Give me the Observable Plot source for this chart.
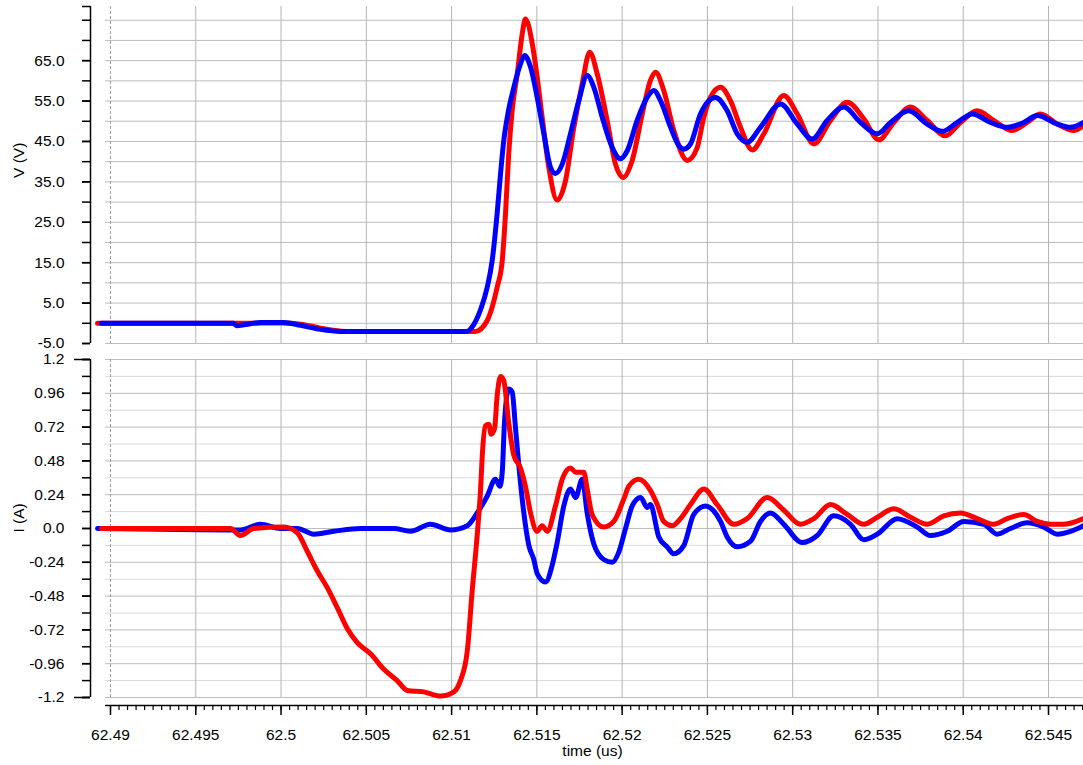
<!DOCTYPE html>
<html>
<head>
<meta charset="utf-8">
<script src="https://cdn.jsdelivr.net/npm/d3@7"></script>
<script src="https://cdn.jsdelivr.net/npm/@observablehq/plot@0.6"></script>
<style>
  body { margin: 0; background: #fff; }
  #chart svg { display: block; }
</style>
</head>
<body>
<div id="chart"></div>
<script>
// ---------- data ----------
const vRedTime = [62.48924, 62.49721, 62.49762, 62.50014, 62.50114, 62.50231, 62.50378, 62.51111, 62.51140, 62.51209, 62.51267, 62.51297, 62.51316, 62.51335, 62.51355, 62.51385, 62.51414, 62.51433, 62.51473, 62.51502, 62.51531, 62.51570, 62.51619, 62.51668, 62.51717, 62.51766, 62.51810, 62.51854, 62.51912, 62.51961, 62.52006, 62.52059, 62.52118, 62.52166, 62.52196, 62.52244, 62.52303, 62.52382, 62.52440, 62.52479, 62.52518, 62.52577, 62.52635, 62.52694, 62.52763, 62.52831, 62.52948, 62.53027, 62.53124, 62.53222, 62.53320, 62.53417, 62.53505, 62.53593, 62.53691, 62.53789, 62.53896, 62.53984, 62.54082, 62.54179, 62.54287, 62.54375, 62.54453, 62.54551, 62.54648, 62.54705];
const vRedValue = [0, 0, 0, 0.1, -0.2, -1.2, -2.0, -2.0, -2.0, 0.7, 8.9, 15.5, 27, 41.9, 52.6, 61.7, 71.6, 75.3, 69.2, 60.9, 51, 38.6, 30.5, 35.3, 48.5, 59.3, 67.1, 61.7, 50.2, 39.4, 36.1, 40.3, 51.8, 60.1, 62.1, 57.6, 47.7, 40.3, 43.5, 51, 55.9, 58.4, 55.1, 48.5, 42.9, 46.9, 56.4, 51.8, 44.4, 50.2, 54.7, 50.6, 45.4, 49.7, 53.5, 50.2, 46.4, 49.7, 52.6, 50.2, 47.7, 49.7, 51.8, 49.3, 47.7, 48.9];

const vBlueTime = [62.48947, 62.49721, 62.49739, 62.49792, 62.49880, 62.50014, 62.50114, 62.50231, 62.50349, 62.51092, 62.51111, 62.51170, 62.51209, 62.51238, 62.51267, 62.51287, 62.51306, 62.51330, 62.51365, 62.51404, 62.51428, 62.51463, 62.51502, 62.51541, 62.51580, 62.51609, 62.51649, 62.51697, 62.51746, 62.51795, 62.51834, 62.51883, 62.51942, 62.51990, 62.52030, 62.52088, 62.52147, 62.52186, 62.52225, 62.52284, 62.52332, 62.52362, 62.52401, 62.52459, 62.52547, 62.52616, 62.52675, 62.52733, 62.52811, 62.52929, 62.53027, 62.53114, 62.53202, 62.53300, 62.53398, 62.53496, 62.53574, 62.53681, 62.53789, 62.53877, 62.53965, 62.54053, 62.54160, 62.54258, 62.54355, 62.54434, 62.54551, 62.54629, 62.54705];
const vBlueValue = [0, 0, -0.6, -0.3, 0.2, 0.2, -0.5, -1.5, -2.0, -2.0, -1.4, 3.4, 8.9, 15.5, 27.1, 37, 45.2, 51.8, 58.4, 64.2, 66.3, 63.4, 55.9, 46.9, 38.6, 37.1, 39.4, 46.9, 55.1, 61.3, 58.4, 51, 43.5, 40.7, 42.7, 50.2, 55.9, 57.6, 55.1, 48.5, 44, 43.1, 44.4, 51.8, 55.9, 52.6, 46.9, 44.8, 48.5, 54.3, 49.3, 45.6, 50.2, 53.5, 49.7, 46.9, 49.7, 52.6, 49.3, 47.5, 49.7, 51.8, 49.7, 48.5, 49.7, 51.4, 49.3, 48.5, 49.7];

const iRedTime = [62.48947, 62.49704, 62.49762, 62.49840, 62.50016, 62.50095, 62.50153, 62.50212, 62.50271, 62.50329, 62.50388, 62.50447, 62.50525, 62.50603, 62.50681, 62.50740, 62.50837, 62.50935, 62.51013, 62.51052, 62.51092, 62.51121, 62.51150, 62.51170, 62.51180, 62.51199, 62.51218, 62.51232, 62.51252, 62.51267, 62.51287, 62.51306, 62.51335, 62.51365, 62.51404, 62.51433, 62.51463, 62.51502, 62.51531, 62.51561, 62.51609, 62.51649, 62.51697, 62.51727, 62.51775, 62.51795, 62.51824, 62.51892, 62.51951, 62.52010, 62.52039, 62.52098, 62.52166, 62.52206, 62.52244, 62.52294, 62.52342, 62.52401, 62.52479, 62.52557, 62.52655, 62.52733, 62.52851, 62.52948, 62.53046, 62.53124, 62.53222, 62.53320, 62.53417, 62.53496, 62.53593, 62.53691, 62.53789, 62.53886, 62.53984, 62.54082, 62.54179, 62.54258, 62.54355, 62.54434, 62.54512, 62.54590, 62.54705];
const iRedValue = [0, 0, -0.05, 0, 0.01, -0.03, -0.16, -0.30, -0.42, -0.56, -0.71, -0.81, -0.89, -1.0, -1.08, -1.15, -1.16, -1.19, -1.16, -1.08, -0.87, -0.44, -0.05, 0.28, 0.52, 0.73, 0.74, 0.67, 0.71, 0.94, 1.08, 1.05, 0.75, 0.52, 0.43, 0.30, 0.11, -0.02, 0.02, -0.02, 0.16, 0.35, 0.43, 0.40, 0.40, 0.28, 0.10, 0.01, 0.05, 0.21, 0.30, 0.35, 0.27, 0.17, 0.05, 0.02, 0.07, 0.17, 0.28, 0.17, 0.03, 0.07, 0.22, 0.13, 0.03, 0.07, 0.17, 0.10, 0.03, 0.08, 0.14, 0.08, 0.03, 0.09, 0.11, 0.07, 0.03, 0.07, 0.10, 0.05, 0.03, 0.03, 0.07];

const iBlueTime = [62.48924, 62.49762, 62.49880, 62.49997, 62.50095, 62.50192, 62.50309, 62.50466, 62.50661, 62.50759, 62.50876, 62.50994, 62.51092, 62.51150, 62.51209, 62.51257, 62.51283, 62.51297, 62.51310, 62.51335, 62.51355, 62.51375, 62.51394, 62.51414, 62.51453, 62.51482, 62.51502, 62.51551, 62.51590, 62.51619, 62.51658, 62.51697, 62.51727, 62.51766, 62.51795, 62.51834, 62.51892, 62.51942, 62.51980, 62.52020, 62.52059, 62.52108, 62.52147, 62.52166, 62.52215, 62.52264, 62.52303, 62.52362, 62.52420, 62.52489, 62.52577, 62.52616, 62.52675, 62.52753, 62.52811, 62.52870, 62.52948, 62.53056, 62.53144, 62.53241, 62.53339, 62.53417, 62.53496, 62.53613, 62.53730, 62.53808, 62.53906, 62.54003, 62.54121, 62.54199, 62.54277, 62.54375, 62.54472, 62.54551, 62.54629, 62.54705];
const iBlueValue = [0, -0.01, 0.03, 0, 0, -0.04, -0.02, 0, 0, -0.02, 0.03, -0.01, 0.02, 0.11, 0.23, 0.35, 0.30, 0.40, 0.75, 0.99, 0.97, 0.71, 0.45, 0.21, -0.12, -0.22, -0.32, -0.38, -0.26, -0.10, 0.16, 0.28, 0.22, 0.35, 0.11, -0.11, -0.22, -0.24, -0.17, 0, 0.16, 0.22, 0.15, 0.17, -0.06, -0.13, -0.18, -0.12, 0.10, 0.16, 0.05, -0.06, -0.13, -0.09, 0.05, 0.11, 0.03, -0.10, -0.05, 0.09, 0.03, -0.08, -0.04, 0.07, 0.01, -0.05, -0.02, 0.05, 0.03, -0.04, 0, 0.04, 0.01, -0.04, -0.02, 0.02];

// ---------- axes / ticks ----------
const timeDomain = [62.489707, 62.547052];
const timeMajor = [62.49, 62.495, 62.5, 62.505, 62.51, 62.515, 62.52, 62.525, 62.53, 62.535, 62.54, 62.545];
const timeLabels = ["62.49", "62.495", "62.5", "62.505", "62.51", "62.515", "62.52", "62.525", "62.53", "62.535", "62.54", "62.545"];
const timeMinor = d3.range(0, 115).map(i => +(62.49 + i * 0.0005).toFixed(4));

const vDomain = [-5, 78.4];
const vTicks = [-5, 0, 5, 10, 15, 20, 25, 30, 35, 40, 45, 50, 55, 60, 65, 70, 75];
const vLabelValues = [-5, 5, 15, 25, 35, 45, 55, 65];
const vLabelText = ["-5.0", "5.0", "15.0", "25.0", "35.0", "45.0", "55.0", "65.0"];

const iDomain = [-1.2568, 1.2];
const iTicks = [-1.2, -1.08, -0.96, -0.84, -0.72, -0.6, -0.48, -0.36, -0.24, -0.12, 0, 0.12, 0.24, 0.36, 0.48, 0.6, 0.72, 0.84, 0.96, 1.08, 1.2];
const iLabelValues = [-1.2, -0.96, -0.72, -0.48, -0.24, 0, 0.24, 0.48, 0.72, 0.96, 1.2];
const iLabelText = ["-1.2", "-0.96", "-0.72", "-0.48", "-0.24", "0.0", "0.24", "0.48", "0.72", "0.96", "1.2"];
const iEnds = [-1.2, 1.2];

// ---------- build tables ----------
const zip = (ts, vs) => ts.slice(0, Math.min(ts.length, vs.length)).map((t, k) => ({t, v: vs[k]}));
const vRed = zip(vRedTime, vRedValue);
const vBlue = zip(vBlueTime, vBlueValue);
const iRed = zip(iRedTime, iRedValue);
const iBlue = zip(iBlueTime, iBlueValue);
const vLabelMap = new Map(vLabelValues.map((d, k) => [d, vLabelText[k]]));
const iLabelMap = new Map(iLabelValues.map((d, k) => [d, iLabelText[k]]));
const timeLabelMap = new Map(timeMajor.map((d, k) => [d, timeLabels[k]]));
const iMajorSet = new Set(iLabelValues);

const RED = "#ff0000", BLUE = "#0000ff";
const GRID = "#bdbdbd", GRID_LIGHT = "#dadada", VGRID = "#b4b4b4";
const plotStyle = {fontFamily: "'Liberation Sans', Arial, sans-serif", fontSize: "15.5px", color: "#000", background: "#fff", overflow: "visible"};
const lineOpts = {x: "t", y: "v", strokeWidth: 5, curve: "monotone-x", strokeLinejoin: "round"};
const blank = () => "";

const voltagePlot = Plot.plot({
  width: 1083, height: 350,
  marginLeft: 105, marginRight: 0, marginTop: 6, marginBottom: 7,
  style: plotStyle,
  x: {domain: timeDomain, axis: null},
  y: {domain: vDomain},
  marks: [
    Plot.ruleY(vTicks, {stroke: GRID, strokeWidth: 1}),
    Plot.ruleX(timeMajor.slice(1), {stroke: VGRID, strokeWidth: 1}),
    Plot.ruleX(timeMajor.slice(0, 1), {stroke: "#9a9a9a", strokeWidth: 1, strokeDasharray: "3,2"}),
    Plot.line(vRed, {...lineOpts, stroke: RED}),
    Plot.line(vBlue, {...lineOpts, stroke: BLUE}),
    Plot.ruleX([timeDomain[0]], {dx: -15, stroke: "#000", strokeWidth: 1.5}),
    Plot.axisY({ticks: vTicks, tickSize: 8, tickFormat: blank, dx: -15, label: null, strokeWidth: 1.5}),
    Plot.axisY({ticks: [vDomain[1]], tickSize: 8, tickFormat: blank, dx: -15, label: null, strokeWidth: 1.5}),
    Plot.axisY({ticks: vLabelValues, tickSize: 8, tickPadding: 18, dx: -15, tickFormat: d => vLabelMap.get(d), label: null, strokeWidth: 1.5}),
    Plot.text(["V (V)"], {frameAnchor: "left", rotate: -90, dx: -86, dy: 3, fontSize: 15.5})
  ]
});

const currentPlot = Plot.plot({
  width: 1083, height: 415,
  marginLeft: 105, marginRight: 0, marginTop: 9, marginBottom: 60,
  style: plotStyle,
  x: {domain: timeDomain},
  y: {domain: iDomain},
  marks: [
    Plot.ruleY(iTicks, {stroke: d => iMajorSet.has(d) ? GRID : GRID_LIGHT, strokeWidth: 1}),
    Plot.ruleX(timeMajor.slice(1), {y1: iEnds[0], y2: iEnds[1], stroke: VGRID, strokeWidth: 1}),
    Plot.ruleX(timeMajor.slice(0, 1), {y1: iEnds[0], y2: iEnds[1], stroke: "#9a9a9a", strokeWidth: 1, strokeDasharray: "3,2"}),
    Plot.line(iBlue, {...lineOpts, stroke: BLUE}),
    Plot.line(iRed, {...lineOpts, stroke: RED}),
    Plot.ruleX([timeDomain[0]], {y1: iEnds[0], y2: iEnds[1], dx: -15, stroke: "#000", strokeWidth: 1.5}),
    Plot.ruleY([iDomain[0]], {stroke: "#000", strokeWidth: 1.5}),
    Plot.axisY({ticks: iTicks, tickSize: 8, tickFormat: blank, dx: -15, label: null, strokeWidth: 1.5}),
    Plot.axisY({ticks: iEnds, tickSize: 16, tickFormat: blank, dx: -15, label: null, strokeWidth: 1.5}),
    Plot.axisY({ticks: iLabelValues, tickSize: 8, tickPadding: 18, dx: -15, tickFormat: d => iLabelMap.get(d), label: null, strokeWidth: 1.5}),
    Plot.axisX({ticks: timeMinor, tickSize: 5, tickFormat: blank, label: null, strokeWidth: 1.2}),
    Plot.axisX({ticks: timeMajor, tickSize: 10, tickPadding: 13, tickFormat: d => timeLabelMap.get(d), label: null, strokeWidth: 1.5}),
    Plot.text(["I (A)"], {frameAnchor: "left", rotate: -90, dx: -86, fontSize: 15.5}),
    Plot.text(["time (us)"], {frameAnchor: "bottom", dx: -2, dy: 50, fontSize: 15.5})
  ]
});

const chart = document.getElementById("chart");
chart.appendChild(voltagePlot);
chart.appendChild(currentPlot);
</script>
</body>
</html>
